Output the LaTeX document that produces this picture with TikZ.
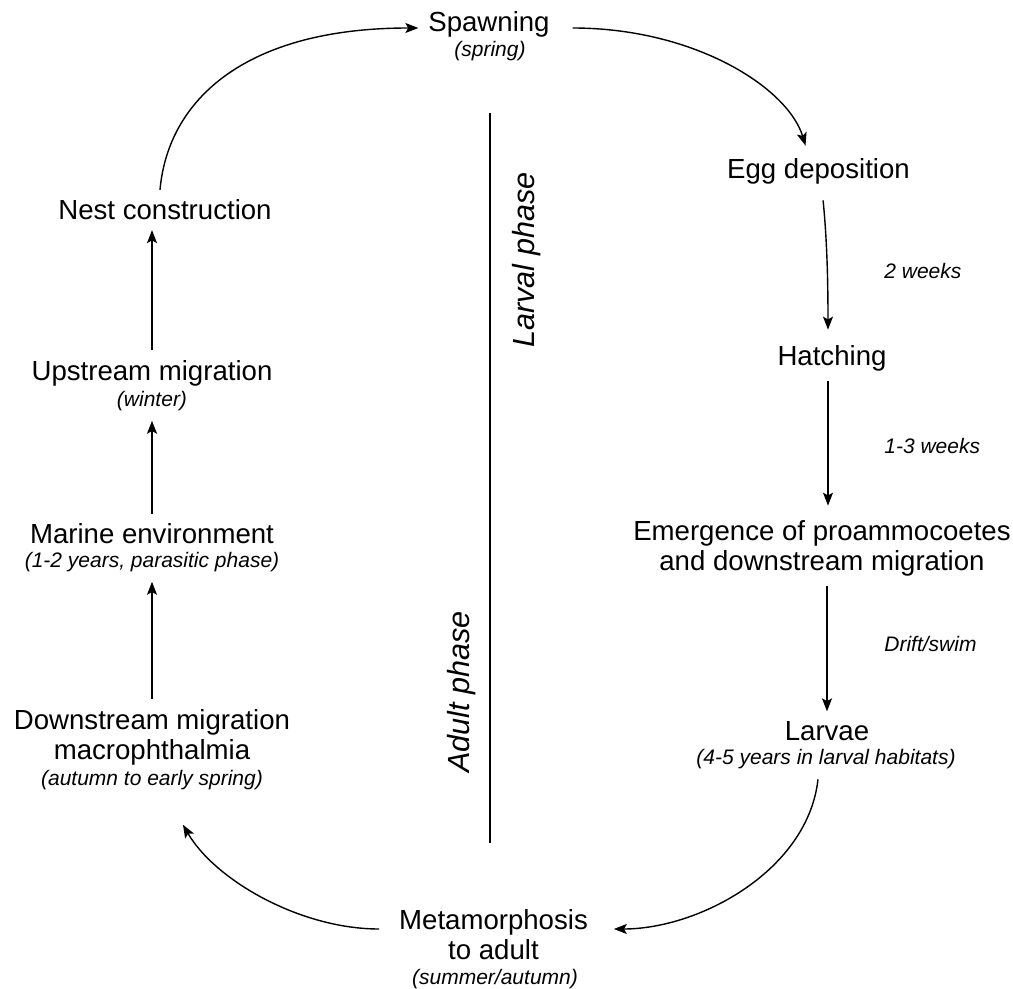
\documentclass[tikz,border=0pt]{standalone}
\usepackage{fontspec}
\setmainfont{Liberation Sans}
\usetikzlibrary{arrows.meta}
\begin{document}
\begin{tikzpicture}[x=0.5pt,y=-0.5pt,
  main/.style={font=\fontsize{13.8}{15}\selectfont, align=center, inner sep=3pt, outer sep=2pt},
  sub/.style={font=\fontsize{10.5}{12}\selectfont\itshape, inner sep=3pt, outer sep=2pt},
  note/.style={font=\fontsize{10.5}{12}\selectfont\itshape, anchor=west, inner sep=0pt},
  phase/.style={font=\fontsize{15.3}{18}\selectfont\itshape, rotate=90},
  arr/.style={-{Stealth[length=6.5pt,width=5pt,inset=1.4pt]}, line width=0.7pt},
  divider/.style={line width=0.7pt}]
\useasboundingbox (0,0) rectangle (1013,989);
% nodes
\node[main] (spawn) at (489,24) {Spawning};
\node[sub] (spawnsub) at (490,51) {(spring)};
\node[main] (egg) at (818.5,171.5) {Egg deposition};
\node[main] (hatch) at (832,358.5) {Hatching};
\node[main] (emerg) at (822,548.5) {Emergence of proammocoetes\\and downstream migration};
\node[main] (larvae) at (827,731) {Larvae};
\node[sub] (larvaesub) at (826,759.5) {(4-5 years in larval habitats)};
\node[main] (meta) at (493.5,935) {Metamorphosis\\to adult};
\node[sub] (metasub) at (495,979) {(summer/autumn)};
\node[main] (down) at (152,737) {Downstream migration\\macrophthalmia};
\node[sub] (downsub) at (152,780) {(autumn to early spring)};
\node[main] (marine) at (152,534) {Marine environment};
\node[sub] (marinesub) at (152,562) {(1-2 years, parasitic phase)};
\node[main] (up) at (152,373) {Upstream migration};
\node[sub] (upsub) at (152,401) {(winter)};
\node[main] (nest) at (165,210) {Nest construction};
% notes
\node[note] (n1) at (884,271) {2 weeks};
\node[note] (n2) at (884,446) {1-3 weeks};
\node[note] (n3) at (884,644) {Drift/swim};
% phase labels and divider
\node[phase] (larval) at (527,260) {Larval phase};
\node[phase] (adult) at (462,692) {Adult phase};
\coordinate (divtop) at (490,113);
\coordinate (divbot) at (490,843);
\draw[divider] (divtop) -- (divbot);
% connectors
\draw[arr] ([xshift=-2.5pt]nest.north) .. controls (168,100) and (245,28) .. ([yshift=-2pt]spawn.west);
\draw[arr, shorten <=6.5pt] ([yshift=-2pt]spawn.east) .. controls (695,28) and (788,88) .. ([xshift=-6.5pt,yshift=1.5pt]egg.north);
\draw[arr, shorten <=3pt] ([xshift=2pt]egg.south) .. controls (827,240) and (828,280) .. ([xshift=-2pt,yshift=3pt]hatch.north);
\draw[arr] ([xshift=-2pt]hatch.south) -- ([xshift=-2pt,yshift=2.5pt]hatch.south |- emerg.north);
\draw[arr] (larvae.north |- emerg.south) -- (larvae.north);
\draw[arr] ([xshift=-4pt]larvaesub.south) .. controls (808,870) and (700,929) .. ([xshift=8pt,yshift=3pt]meta.east);
\draw[arr] ([xshift=-5pt,yshift=3pt]meta.west) .. controls (300,929) and (215,880) .. ([xshift=15.5pt,yshift=-12.5pt]downsub.south);
\draw[arr] (down.north) -- (marinesub.south);
\draw[arr] (marine.north) -- (upsub.south);
\draw[arr] (up.north) -- (up.north |- nest.south);
\end{tikzpicture}
\end{document}
